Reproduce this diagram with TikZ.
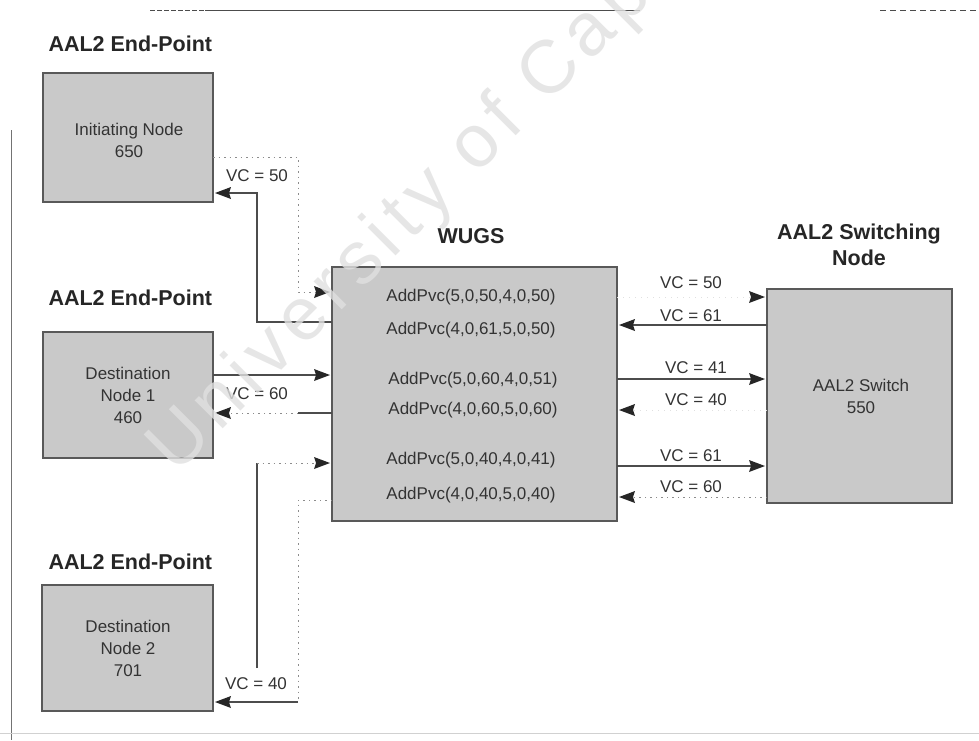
\documentclass[tikz,border=0pt]{standalone}
\usepackage{fontspec}
\setmainfont{Liberation Sans}
\newfontfamily\wmfont[LetterSpace=10]{Liberation Sans}
\usetikzlibrary{arrows.meta}
\begin{document}
\begin{tikzpicture}[x=1pt,y=-1pt,
  box/.style={draw=black!65, line width=1.2pt, fill=black!21, inner sep=0pt, outer sep=0pt},
  btxt/.style={font=\fontsize{17}{22}\selectfont, text=black!80, align=center},
  ptxt/.style={font=\fontsize{17}{20}\selectfont, text=black!80},
  title/.style={font=\fontsize{21.5}{26}\selectfont\bfseries, text=black!85, align=center},
  vc/.style={font=\fontsize{17}{20}\selectfont, text=black!80},
  wire/.style={draw=black!70, line width=1.3pt},
  faint/.style={draw=black!45, line width=0.9pt, dash pattern=on 1.5pt off 4pt},
  ghost/.style={draw=black!12, line width=0.6pt, dash pattern=on 1pt off 5pt},
  arr/.style={-{Stealth[length=16pt,width=12pt,inset=2pt,line width=0pt,color=black!85]}, shorten >=2pt}
]
\useasboundingbox (0,0) rectangle (979,740);

% frame remnants
\draw[black!70, line width=1pt, dash pattern=on 5pt off 2pt] (150,10) -- (205,10);
\draw[black!70, line width=1pt] (205,10) -- (640,10);
\draw[black!70, line width=1pt, dash pattern=on 6pt off 4pt] (880,10) -- (979,10);
\draw[black!55, line width=0.8pt] (11,130) -- (11,740);
\draw[black!18, line width=0.8pt] (0,733) -- (979,733);

% titles
\node[title, anchor=west] (t1) at (45,44) {AAL2 End-Point};
\node[title, anchor=west] (t2) at (45,298) {AAL2 End-Point};
\node[title, anchor=west] (t3) at (45,562) {AAL2 End-Point};
\node[title] (t4) at (471,236) {WUGS};
\node[title] (t5) at (859,245) {AAL2 Switching\\Node};

% boxes
\node[box, minimum width=170pt, minimum height=129pt] (init) at (128,137.5) {};
\node[btxt] (initt) at (129,140) {Initiating Node\\650};
\node[box, minimum width=170pt, minimum height=126pt] (dest1) at (128,395) {};
\node[btxt] (dest1t) at (128,395) {Destination\\Node 1\\460};
\node[box, minimum width=171pt, minimum height=126pt] (dest2) at (127.5,648) {};
\node[btxt] (dest2t) at (128,648) {Destination\\Node 2\\701};
\node[box, minimum width=285pt, minimum height=254pt] (wugs) at (474.5,394) {};
\node[box, minimum width=185pt, minimum height=214pt] (switch) at (859.5,396) {};
\node[btxt] (switcht) at (861,396) {AAL2 Switch\\550};

% WUGS commands
\node[ptxt] (w1) at (471,297) {AddPvc(5,0,50,4,0,50)};
\node[ptxt] (w2) at (471,330) {AddPvc(4,0,61,5,0,50)};
\node[ptxt] (w3) at (473,380) {AddPvc(5,0,60,4,0,51)};
\node[ptxt] (w4) at (473,410) {AddPvc(4,0,60,5,0,60)};
\node[ptxt] (w5) at (471,460) {AddPvc(5,0,40,4,0,41)};
\node[ptxt] (w6) at (471,495) {AddPvc(4,0,40,5,0,40)};

% helper coordinates
\coordinate (a1) at (257,322); \coordinate (a2) at (257,193);
\coordinate (b1) at (298,157); \coordinate (b2) at (298,292);
\coordinate (c1) at (0,375);
\coordinate (d1) at (298,413);
\coordinate (e1) at (257,668); \coordinate (e2) at (257,463);
\coordinate (f1) at (298,500); \coordinate (f2) at (298,702);
\coordinate (g1) at (0,297); \coordinate (h1) at (0,325); \coordinate (i1) at (0,379);
\coordinate (j1) at (0,410); \coordinate (k1) at (0,466); \coordinate (l1) at (0,497);

% left connectors
\draw[wire, arr] (wugs.west |- a1) -- (a1) -- (a2) -- (init.east |- a2);
\draw[faint, arr] (init.east |- b1) -- (b1) -- (b2) -- (wugs.west |- b2);
\draw[wire, arr] (dest1.east |- c1) -- (wugs.west |- c1);
\draw[wire] (wugs.west |- d1) -- (d1);
\draw[faint, arr] (d1) -- (dest1.east |- d1);
\draw[wire] (e1) -- (e2);
\draw[faint, arr] (e2) -- (wugs.west |- e2);
\draw[faint] (wugs.west |- f1) -- (f1) -- (f2);
\draw[wire, arr] (f2) -- (dest2.east |- f2);

% right connectors
\draw[ghost, arr] (wugs.east |- g1) -- (switch.west |- g1);
\draw[wire, arr] (switch.west |- h1) -- (wugs.east |- h1);
\draw[wire, arr] (wugs.east |- i1) -- (switch.west |- i1);
\draw[ghost, arr] (switch.west |- j1) -- (wugs.east |- j1);
\draw[wire, arr] (wugs.east |- k1) -- (switch.west |- k1);
\draw[faint, arr] (switch.west |- l1) -- (wugs.east |- l1);

% VC labels
\node[vc] (vcl1) at (257,176) {VC = 50};
\node[vc] (vcl2) at (257,394) {VC = 60};
\node[vc] (vcl3) at (256,684) {VC = 40};
\node[vc] (vcr1) at (691,283) {VC = 50};
\node[vc] (vcr2) at (691,316) {VC = 61};
\node[vc] (vcr3) at (696,368) {VC = 41};
\node[vc] (vcr4) at (696,400) {VC = 40};
\node[vc] (vcr5) at (691,456) {VC = 61};
\node[vc] (vcr6) at (691,487) {VC = 60};

% watermark
\node[rotate=45, anchor=base west, text=black!12, opacity=0.8, inner sep=0pt,
      font=\wmfont\fontsize{75}{78}\selectfont] (wm) at (176,476) {University of Cape Town};
\end{tikzpicture}
\end{document}
